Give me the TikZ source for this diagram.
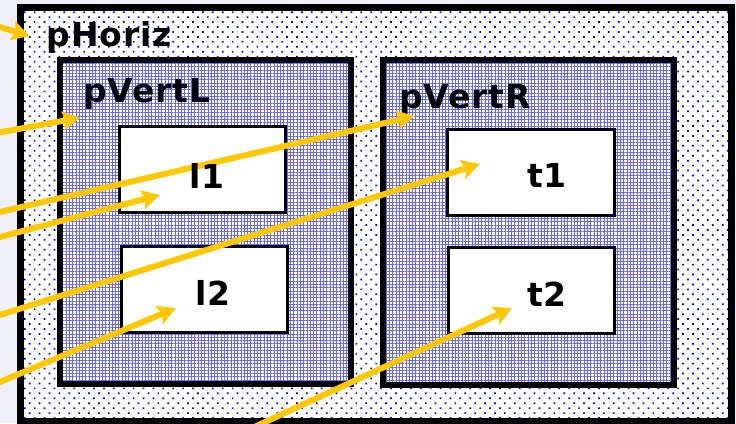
\documentclass[tikz,border=0pt]{standalone}
\usepackage{fontspec}
\newfontfamily\panefont{DejaVu Sans Bold}[LetterSpace=2.5]
\usetikzlibrary{arrows.meta, positioning, patterns.meta}

\definecolor{pagebg}{RGB}{240,240,250}
\definecolor{wiregold}{RGB}{255,200,0}

\begin{document}
\begin{tikzpicture}[
    x=1pt, y=-1pt,
    >={Stealth[length=18pt,width=19pt,inset=3pt]},
    font=\panefont\fontsize{33}{35}\selectfont,
    outer/.style={
        draw,
        line width=7pt,
        preaction={fill=white},
        pattern={Dots[distance=7pt,angle=45,radius=1.2pt]},
        pattern color=blue
    },
    pane/.style={
        draw,
        line width=6pt,
        preaction={fill=white},
        pattern={Hatch[distance=3.3pt,angle=0,line width=0.7pt]},
        pattern color=blue!60
    },
    widget/.style={
        draw,
        fill=white,
        line width=3pt,
        minimum width=166pt,
        minimum height=86pt
    },
    tag/.style={
        inner sep=0pt,
        anchor=base west
    },
    wire/.style={
        ->,
        draw=wiregold,
        line width=6pt
    }
    ]

    \useasboundingbox (0,0) rectangle (736,423);
    \clip (0,0) rectangle (736,423);
    \fill[pagebg] (0,0) rectangle (736,423);

    %------------------------------------------------
    % CONTAINERS
    %------------------------------------------------

    \node[outer, minimum width=711pt, minimum height=414pt] (pHoriz) at (376,214.5) {};
    \node[tag] (tHoriz) at (46.5,46) {pHoriz};

    \node[pane, minimum width=291pt, minimum height=323.5pt] (pVertL) at (205.5,221.75) {};
    \node[tag] (tVertL) at (83,102) {pVertL};

    \node[pane, minimum width=291pt, minimum height=325pt] (pVertR) at (528.5,222.5) {};
    \node[tag] (tVertR) at (399,108) {pVertR};

    %------------------------------------------------
    % WIDGETS
    %------------------------------------------------

    \node[widget] (l1) at (202,169.5) {};
    \node[widget] (l2) at (204,289) {};
    \node[widget, minimum width=167pt] (t1) at (530.5,172) {};
    \node[widget] (t2) at (531,290) {};

    %------------------------------------------------
    % POINTERS
    %------------------------------------------------

    \coordinate (srcHoriz) at (-10,24);
    \coordinate (srcVertL) at (-10,134.2);
    \coordinate (srcVertR) at (-10,214.3);
    \coordinate (srcL1) at (-10,239.6);
    \coordinate (srcT1) at (-10,318.1);
    \coordinate (srcL2) at (-10,386.2);
    \coordinate (srcT2) at (241.4,433);

    \draw[wire] (srcHoriz) -- ([shift={(13,32)}]pHoriz.north west);
    \draw[wire] (srcVertL) -- ([shift={(21,58)}]pVertL.north west);
    \draw[wire] (srcVertR) -- ([shift={(35,59)}]pVertR.north west);
    \draw[wire] (srcL1) -- ([shift={(-42,25.5)}]l1.center);
    \draw[wire] (srcT1) -- ([shift={(-50.5,-8)}]t1.center);
    \draw[wire] (srcL2) -- ([shift={(-28,19)}]l2.center);
    \draw[wire] (srcT2) -- ([shift={(-19,18)}]t2.center);

    % widget captions sit on top of the pointers
    \node[tag] (tl1) at (189,188) {l1};
    \node[tag] (tl2) at (195,305) {l2};
    \node[tag] (tt1) at (527,187) {t1};
    \node[tag] (tt2) at (527,306) {t2};

\end{tikzpicture}
\end{document}
